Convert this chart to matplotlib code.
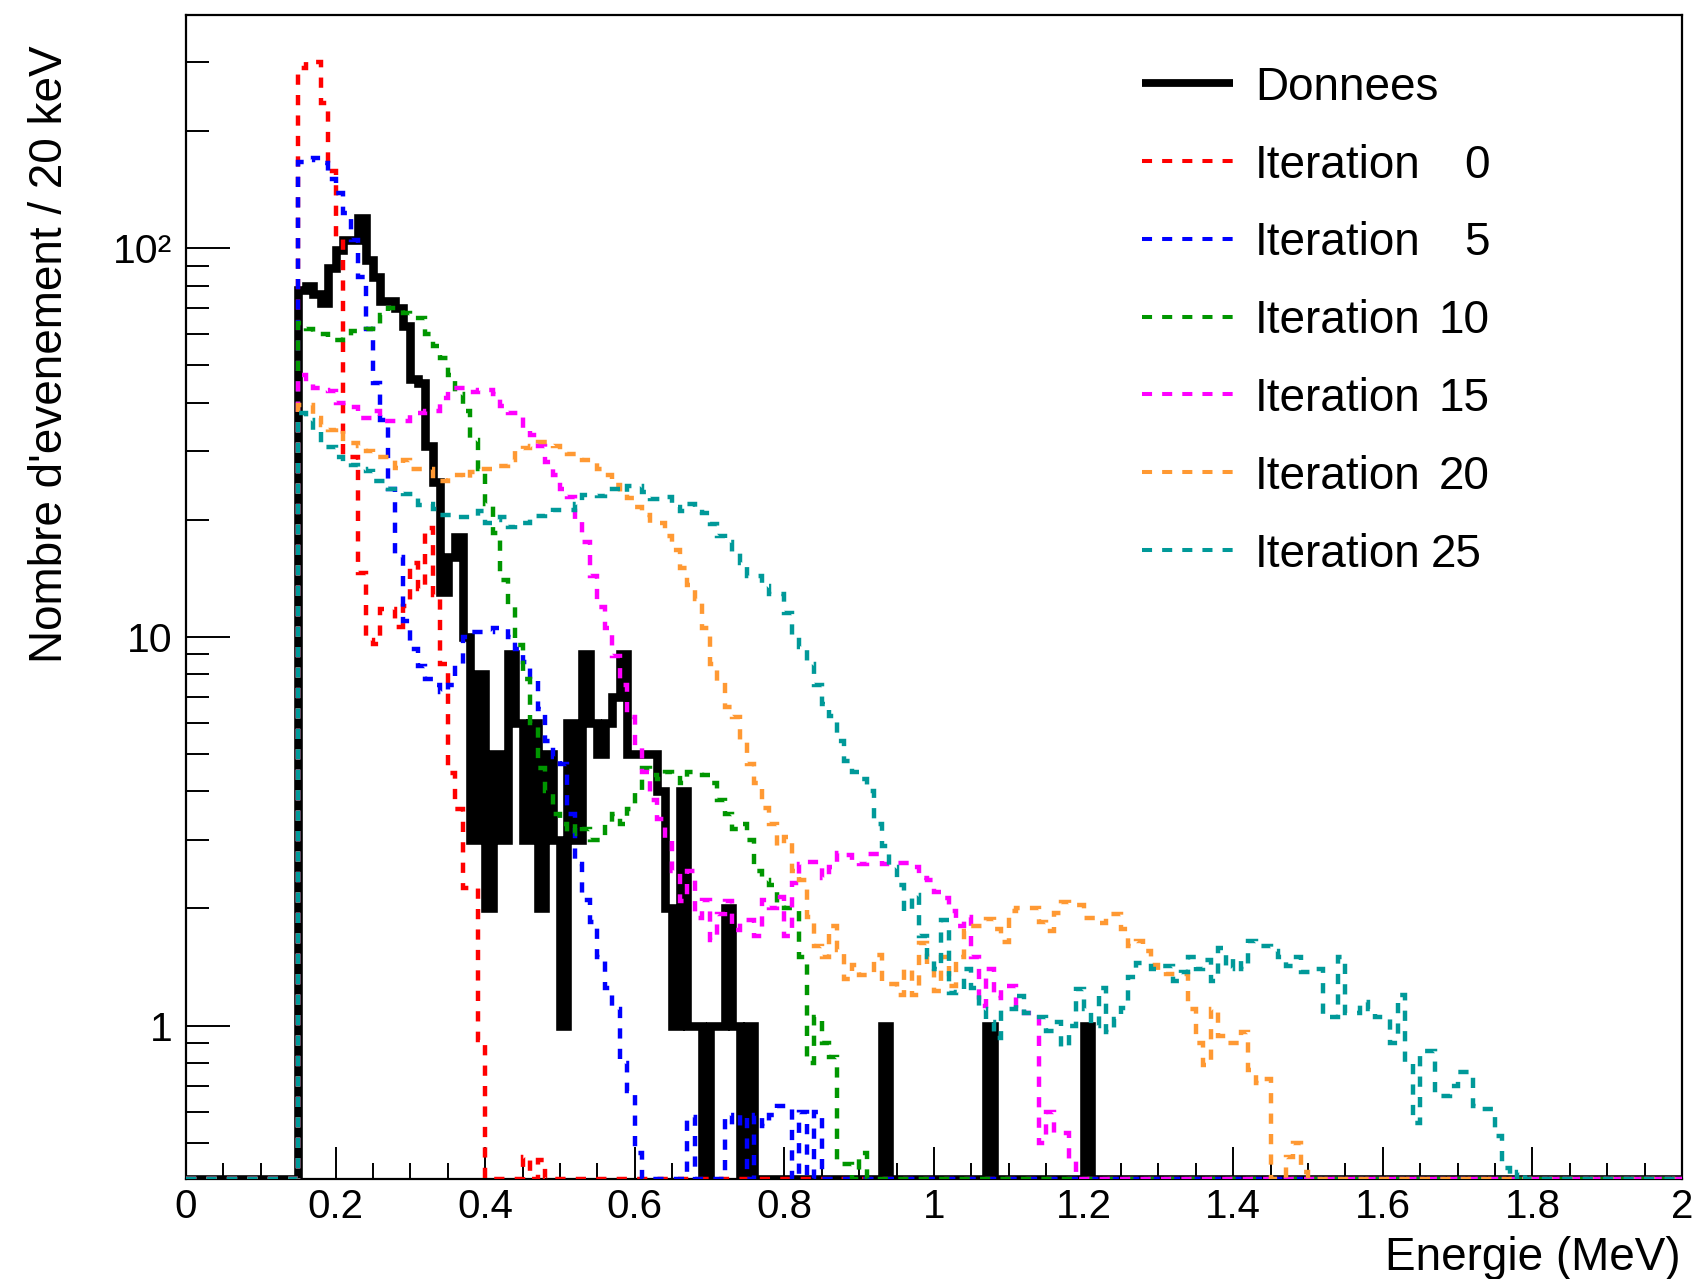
import numpy as np
import matplotlib
matplotlib.use("Agg")
import matplotlib.pyplot as plt
from matplotlib.lines import Line2D
from matplotlib.ticker import FixedLocator, FixedFormatter, NullFormatter, MultipleLocator, FuncFormatter

plt.rcParams['font.family'] = ['Liberation Sans', 'DejaVu Sans']

# ---------------- data (10 keV bins, first value = bin starting at 0.15 MeV) -------------
BIN_WIDTH = 0.01
START = 0.15

data_counts = [
    78, 80, 76, 72, 89, 99, 105, 105, 119, 93,          # 0.15-0.24
    84, 73, 73, 70, 63, 46, 45, 31, 25, 13,             # 0.25-0.34
    16, 18, 10, 3, 8, 2, 5, 3, 9, 6,                    # 0.35-0.44
    3, 6, 2, 5, 3, 1, 6, 3, 9, 6,                       # 0.45-0.54
    5, 6, 7, 9, 5, 5, 5, 5, 4, 2,                       # 0.55-0.64
    1, 4, 1, 1, 0, 1, 1, 2, 1, 0,                       # 0.65-0.74
    1, 0, 0, 0, 0, 0, 0, 0, 0, 0,                       # 0.75-0.84
    0, 0, 0, 0, 0, 0, 0, 0, 1, 0,                       # 0.85-0.94
    0, 0, 0, 0, 0, 0, 0, 0, 0, 0,                       # 0.95-1.04
    0, 0, 1, 0, 0, 0, 0, 0, 0, 0,                       # 1.05-1.14
    0, 0, 0, 0, 0, 1, 0,                                # 1.15-1.21
]

iter0 = [
    290, 300, 300, 236, 158, 106, 29, 29, 14.6, 9.8,
    9.6, 11.8, 11.8, 10.6, 12, 15.5, 13.3, 19, 12.8, 8.5,
    4.45, 3.6, 2.26, 2.26, 0.92, 0, 0, 0, 0, 0,
    0.46, 0, 0.45,
]

iter5 = [
    166, 168, 170, 165, 150, 138, 123, 105, 84, 62,
    45, 36, 24, 16, 11, 9.3, 8.4, 7.8, 7.5, 7.2,
    7.5, 8.5, 10, 10.3, 10.3, 10.3, 10.5, 10.5, 10, 9.3,
    8.6, 7.8, 6.5, 5.4, 4.9, 4.7, 3.5, 2.6, 2.1, 1.85,
    1.5, 1.25, 1.1, 0.8, 0.68, 0.47, 0, 0, 0, 0,
    0, 0, 0.58, 0, 0, 0, 0, 0.59, 0.55, 0.59,
    0, 0.59, 0.55, 0.59, 0.62, 0.62, 0, 0.6, 0, 0.6,
]

iter10 = [
    64, 62, 60, 60, 58, 58, 59, 61, 61, 62,
    63, 67, 70, 70, 68, 66, 66, 60, 56, 52,
    47, 42, 38, 32, 27, 22, 18.5, 14, 12, 9.5,
    7.8, 6.0, 4.6, 4.0, 3.5, 3.3, 3.1, 3.3, 3.2, 3.0,
    3.0, 3.3, 3.5, 3.3, 3.6, 4.0, 4.6, 4.4, 4.3, 4.5,
    4.4, 4.2, 4.5, 4.5, 4.4, 4.2, 3.8, 3.5, 3.2, 3.3,
    3.0, 2.5, 2.37, 2.3, 2.05, 2.0, 2.0, 1.5, 0.8, 1.05,
    0.9, 0.83, 0.44, 0.44, 0, 0.47,
]

iter15 = [
    47, 45, 43.6, 43, 42.8, 40, 40, 39, 36.6, 36.6,
    38, 35.8, 35.8, 35.8, 35.8, 37.6, 37.6, 38, 38, 41,
    43.5, 43.5, 43.5, 42.5, 43, 43, 42, 39.3, 37.6, 37.6,
    34, 33, 31, 28.2, 26, 24, 22.9, 20, 17.5, 14.3,
    11.9, 10.5, 8.9, 7.5, 6.2, 5.2, 4.5, 3.8, 3.4, 3.0,
    2.5, 2.09, 2.5, 1.89, 2.1, 1.66, 1.93, 2.09, 1.76, 1.87,
    1.87, 1.7, 2.1, 2.0, 2.14, 1.7, 2.33, 2.6, 2.63, 2.63,
    2.39, 2.55, 2.78, 2.75, 2.65, 2.6, 2.76, 2.76, 2.6, 2.6,
    2.62, 2.62, 2.56, 2.4, 2.37, 2.2, 2.13, 1.97, 1.8, 1.9,
    1.5, 1.12, 1.4, 1.18, 1.26, 1.26, 1.1, 1.08, 1.08, 0.5,
    0.6, 0.53, 0.53, 0.45,
]

iter20 = [
    39.5, 39.5, 36.5, 35, 34, 34.4, 31.4, 31.4, 31, 30,
    29, 28.9, 28.9, 27.1, 28.5, 27, 27, 27, 25.1, 25.1,
    26, 26, 25.5, 26.5, 27, 27, 27.5, 27.5, 28.5, 30,
    30.5, 31, 31.7, 31.7, 31, 30, 29.5, 29.5, 28.5, 28.5,
    27, 26, 24.5, 23.5, 22.7, 21.5, 20.5, 19.6, 19.6, 18.2,
    16.7, 15, 13.6, 12.5, 10.5, 8.5, 7.7, 6.6, 6.2, 5.4,
    4.7, 4.2, 3.63, 3.3, 2.9, 3.05, 2.5, 2.37, 1.9, 1.6,
    1.5, 1.8, 1.56, 1.32, 1.43, 1.35, 1.35, 1.52, 1.28, 1.28,
    1.2, 1.4, 1.2, 1.63, 1.4, 1.23, 1.5, 1.26, 1.5, 1.75,
    1.8, 1.8, 1.88, 1.77, 1.64, 1.97, 2.0, 2.0, 2.0, 1.85,
    1.75, 1.95, 2.08, 2.04, 2.04, 1.89, 1.89, 1.84, 1.93, 1.93,
    1.77, 1.6, 1.65, 1.55, 1.43, 1.39, 1.36, 1.36, 1.36, 1.1,
    0.9, 0.79, 1.1, 0.94, 0.9, 0.9, 0.96, 0.77, 0.71, 0.73,
    0, 0, 0.46, 0.5, 0.42,
]

iter25 = [
    37.6, 36, 34, 30.8, 30.8, 29, 28, 27.6, 27, 26.7,
    25.2, 25.2, 24, 24, 23.3, 23.3, 21.8, 22, 21.3, 20.5,
    20.5, 20.3, 20.3, 20.3, 21, 19.6, 20, 20.3, 19.2, 19.6,
    19.6, 20.4, 20.4, 20.8, 21.2, 21.2, 21.2, 22, 23.2, 23.2,
    23, 24, 24, 23.5, 24.4, 24.4, 23.5, 22.6, 22.6, 22.9,
    21.5, 21, 22, 20.9, 20.8, 19.5, 18.2, 17.5, 16.5, 15.5,
    14.3, 14.3, 13.5, 12.9, 12.9, 11.5, 10.0, 9.4, 8.5, 7.5,
    6.7, 6.24, 5.4, 4.8, 4.5, 4.3, 4.0, 3.3, 2.9, 2.56,
    2.3, 1.97, 2.17, 1.7, 1.5, 1.4, 1.87, 1.21, 1.22, 1.4,
    1.25, 1.1, 1.02, 0.93, 1.1, 1.1, 1.19, 1.08, 1.05, 1.05,
    0.97, 1.02, 0.88, 1.0, 1.24, 1.1, 1.0, 1.25, 0.96, 1.04,
    1.11, 1.33, 1.45, 1.45, 1.4, 1.42, 1.42, 1.3, 1.37, 1.5,
    1.4, 1.47, 1.3, 1.58, 1.4, 1.48, 1.4, 1.65, 1.6, 1.6,
    1.55, 1.5, 1.42, 1.5, 1.37, 1.37, 1.4, 1.05, 1.05, 1.5,
    1.08, 1.08, 1.15, 1.1, 1.05, 1.05, 0.9, 1.2, 0.8, 0.56,
    0.86, 0.86, 0.66, 0.66, 0.7, 0.76, 0.76, 0.62, 0.61, 0.61,
    0.52, 0.43, 0, 0.42,
]

mc_series = [iter0, iter5, iter10, iter15, iter20, iter25]
mc_labels = ["0", "5", "10", "15", "20", "25"]
mc_colors = ["#ff0000", "#0000ff", "#009600", "#ff00ff", "#ff9933", "#009999"]

x_ticks = [0, 0.2, 0.4, 0.6, 0.8, 1.0, 1.2, 1.4, 1.6, 1.8, 2.0]
y_major = [1, 10, 100]
y_major_labels = ["1", "10", "10\u00b2"]
y_minor = [0.5, 0.6, 0.7, 0.8, 0.9, 2, 3, 4, 5, 6, 7, 8, 9,
           20, 30, 40, 50, 60, 70, 80, 90, 200, 300]

# ---------------- figure ----------------
W, H = 1698, 1279
fig = plt.figure(figsize=(W / 100, H / 100), dpi=100)
ax_l, ax_r, ax_t, ax_b = 186, 1682, 15, 1179.4
ax = fig.add_axes([ax_l / W, 1 - ax_b / H, (ax_r - ax_l) / W, (ax_b - ax_t) / H])

YMIN, YMAX = 0.402, 397
NBINS = 200
edges = np.linspace(0.0, 2.0, NBINS + 1)

DATA_LW = 6.2
MC_LW = 3.2
MC_DASH = (0, (2.3, 2.3))


def full_hist(vals):
    arr = np.zeros(NBINS)
    i0 = int(round(START / BIN_WIDTH))
    arr[i0:i0 + len(vals)] = vals
    arr = np.maximum(arr, YMIN)
    return np.append(arr, arr[-1])


ax.plot(edges, full_hist(data_counts), drawstyle='steps-post', color='black',
        lw=DATA_LW, solid_joinstyle='miter', solid_capstyle='butt', zorder=3)
for vals, col in zip(mc_series, mc_colors):
    ax.plot(edges, full_hist(vals), drawstyle='steps-post', color=col,
            lw=MC_LW, linestyle=MC_DASH, dash_capstyle='butt',
            dash_joinstyle='miter', zorder=4)

ax.set_yscale('log')
ax.set_xlim(0, 2)
ax.set_ylim(YMIN, YMAX)

ax.yaxis.set_major_locator(FixedLocator(y_major))
ax.yaxis.set_major_formatter(FixedFormatter(y_major_labels))
ax.yaxis.set_minor_locator(FixedLocator(y_minor))
ax.yaxis.set_minor_formatter(NullFormatter())

ax.xaxis.set_major_locator(FixedLocator(x_ticks))
ax.xaxis.set_major_formatter(FuncFormatter(lambda v, p: '%g' % round(v, 2)))
ax.xaxis.set_minor_locator(MultipleLocator(0.05))

ax.tick_params(axis='y', which='major', direction='in', length=31.7, width=1.4,
               labelsize=29.5, pad=9.7, right=False, left=True)
ax.tick_params(axis='y', which='minor', direction='in', length=16.5, width=1.4,
               right=False, left=True)
ax.tick_params(axis='x', which='major', direction='in', length=23, width=1.4,
               labelsize=29, pad=6, top=False)
ax.tick_params(axis='x', which='minor', direction='in', length=11.5, width=1.4,
               top=False)
for s in ax.spines.values():
    s.set_linewidth(1.6)

# axis titles
fig.text(1681 / W, 1 - 1270 / H, "Energie (MeV)", fontsize=33,
         ha='right', va='baseline')
fig.text(62 / W, 1 - 45 / H, "Nombre d'evenement / 20 keV", fontsize=33,
         rotation=90, rotation_mode='anchor', ha='right', va='baseline')

# ---------------- legend (manual, no frame) ----------------
leg_x0, leg_x1 = 1142, 1233
text_x = 1255
num_right = [1490, 1490, 1490, 1490, 1490, 1482]
y0, dy = 83.3, 77.8

fig.add_artist(Line2D([leg_x0 / W, leg_x1 / W], [1 - y0 / H, 1 - y0 / H],
                      transform=fig.transFigure, color='black', lw=5.6,
                      solid_capstyle='butt'))
fig.text(text_x / W, 1 - (y0 + 16.5) / H, "Donnees", fontsize=33,
         ha='left', va='baseline')
for k, (lab, col) in enumerate(zip(mc_labels, mc_colors)):
    yc = y0 + dy * (k + 1)
    fig.add_artist(Line2D([leg_x0 / W, leg_x1 / W], [1 - yc / H, 1 - yc / H],
                          transform=fig.transFigure, color=col, lw=2.9,
                          linestyle=(0, (2.5, 2.5)), dash_capstyle='butt'))
    fig.text(text_x / W, 1 - (yc + 16.5) / H, "Iteration", fontsize=33,
             ha='left', va='baseline')
    fig.text(num_right[k] / W, 1 - (yc + 16.5) / H, lab, fontsize=33,
             ha='right', va='baseline')

fig.savefig("out.png", dpi=100)
